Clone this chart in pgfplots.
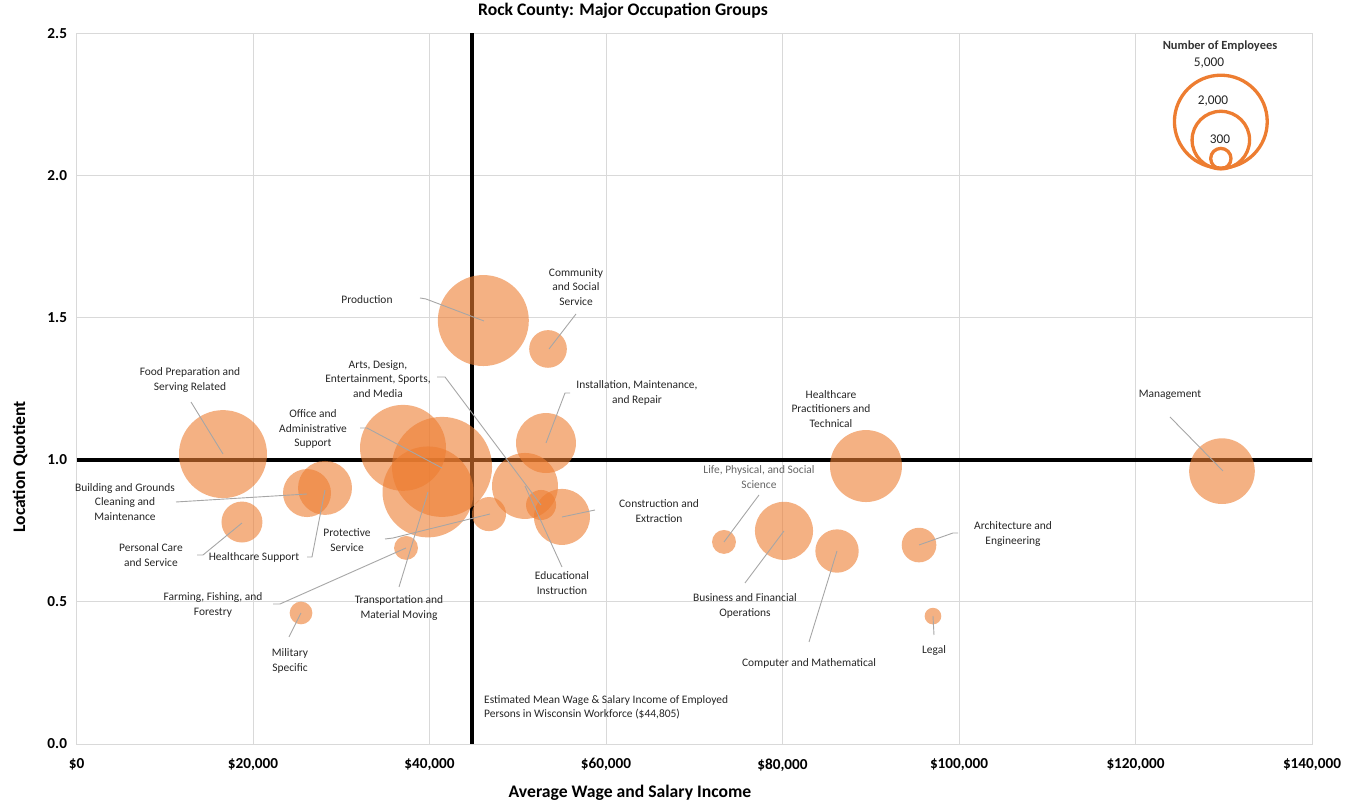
\documentclass[border=0pt]{standalone}
\usepackage{pgfplots}
\pgfplotsset{compat=1.18}
\usepackage{pgfplotstable}
\usepackage{fontspec}
\setmainfont{Carlito}
\definecolor{bub}{HTML}{ED7D31}
\definecolor{gridc}{HTML}{D9D9D9}
\definecolor{leadc}{HTML}{A6A6A6}

% x = average wage, y = location quotient, n = number of employees
\pgfplotstableread{
x      y      n
46100  1.490  4490
53430  1.390  770
16600  1.020  4200
37000  1.042  4010
41420  0.975  5430
39830  0.887  4490
53200  1.059  1950
50820  0.908  2360
52640  0.841  490
55010  0.799  1700
46740  0.809  630
37340  0.690  310
89460  0.978  2810
129800 0.960  2340
26120  0.883  1250
28160  0.901  1580
18750  0.781  910
25440  0.461  280
73370  0.711  310
80170  0.750  1830
86180  0.679  1020
95470  0.700  650
97050  0.450  150
}\bubbles

\pgfplotstableread{
x      y      n
129670 2.190  5000
129670 2.125  2000
129670 2.060  300
}\legendtab

\begin{document}
\begin{tikzpicture}
\path[use as bounding box] (0,0) rectangle (1358bp,802bp);
\begin{axis}[
  at={(76.5bp,58bp)}, anchor=south west,
  width=1235.5bp, height=710.5bp, scale only axis,
  xmin=0, xmax=140000, ymin=0, ymax=2.5,
  xtick={0,20000,40000,60000,80000,100000,120000,140000},
  xticklabels={{\$0},{\$20,000},{\$40,000},{\$60,000},{\$80,000},{\$100,000},{\$120,000},{\$140,000}},
  ytick={0,0.5,1,1.5,2,2.5},
  yticklabels={0.0,0.5,1.0,1.5,2.0,2.5},
  scaled ticks=false,
  ticklabel style={font=\fontsize{15.3}{18}\selectfont\bfseries, text=black},
  xticklabel style={yshift=-11bp},
  yticklabel style={xshift=-6bp},
  grid=major, major grid style={draw=gridc, line width=0.9bp},
  axis line style={draw=gridc, line width=0.9bp},
  tick style={draw=none},
  title={Rock County: Major Occupation Groups},
  title style={font=\fontsize{17.7}{20}\selectfont\bfseries, at={(axis description cs:0.4423,1.0232)}, anchor=center},
  xlabel={Average Wage and Salary Income},
  xlabel style={font=\fontsize{17.7}{20}\selectfont\bfseries, at={(axis description cs:0.448,-0.068)}, anchor=center},
  ylabel={Location Quotient},
  ylabel style={font=\fontsize{17.7}{20}\selectfont\bfseries, at={(axis description cs:-0.0457,0.39)}, anchor=center},
]
\addplot[black, line width=3.5bp, forget plot] coordinates {(44805,0) (44805,2.5)};
\addplot[black, line width=3.5bp, forget plot] coordinates {(0,1) (140000,1)};
\addplot[scatter, only marks, mark=*, color=bub,
  mark options={draw=bub, draw opacity=0, line width=0pt, fill=bub, fill opacity=0.6},
  visualization depends on={\thisrow{n} \as \nval},
  scatter/@pre marker code/.code={%
    \pgfmathsetmacro\rr{48*sqrt(\nval/5000)}%
    \scope[mark size=\rr bp]},
  scatter/@post marker code/.code={\endscope}]
  table[x=x, y=y] {\bubbles};
\addplot[scatter, only marks, mark=o, color=bub,
  mark options={draw=bub, fill=none, line width=3.3bp},
  visualization depends on={\thisrow{n} \as \nval},
  scatter/@pre marker code/.code={%
    \pgfmathsetmacro\rr{48*sqrt(\nval/5000)-1.6}%
    \scope[mark size=\rr bp]},
  scatter/@post marker code/.code={\endscope}]
  table[x=x, y=y] {\legendtab};
\end{axis}

\begin{scope}[x=1bp, y=-1bp, yshift=802bp,
  lab/.style={font=\fontsize{11.5}{14.5}\selectfont, align=center, text=black!85, inner sep=0pt},
  lead/.style={draw=leadc, line width=0.9bp}]
% leader lines
\draw[lead] (420,298) -- (426,299) -- (484,321);
\draw[lead] (576,314) -- (549,349);
\draw[lead] (191,402) -- (223,454);
\draw[lead] (437,377) -- (445,377) -- (541,505);
\draw[lead] (360,428) -- (367,428) -- (442,468);
\draw[lead] (570,393) -- (565,393) -- (546,443);
\draw[lead] (1170,417) -- (1223,471);
\draw[lead] (176,502) -- (307,494);
\draw[lead] (197,555) -- (203,555) -- (242,523);
\draw[lead] (307,557) -- (312,557) -- (325,490);
\draw[lead] (385,539) -- (393,538) -- (490,514);
\draw[lead] (273,604) -- (280,604) -- (406,548);
\draw[lead] (399,587) -- (428,492);
\draw[lead] (289,637) -- (301,613);
\draw[lead] (562,567) -- (525,486);
\draw[lead] (595,510) -- (562,517);
\draw[lead] (759,495) -- (724,542);
\draw[lead] (745,583) -- (784,531);
\draw[lead] (809,642) -- (837,551);
\draw[lead] (958,533) -- (953,533) -- (919,545);
\draw[lead] (934,635) -- (933,616);
% labels
\node[lab] at (367,300) {Production};
\node[lab] at (576,287) {Community\\and Social\\Service};
\node[lab] at (190,380) {Food Preparation and\\Serving Related};
\node[lab] at (378,379) {Arts, Design,\\Entertainment, Sports,\\and Media};
\node[lab] at (313,429) {Office and\\Administrative\\Support};
\node[lab] at (637,393) {Installation, Maintenance,\\and Repair};
\node[lab] at (831,409) {Healthcare\\Practitioners and\\Technical};
\node[lab] at (1170,395) {Management};
\node[lab] at (125,502) {Building and Grounds\\Cleaning and\\Maintenance};
\node[lab] at (151,555) {Personal Care\\and Service};
\node[lab] at (254,557) {Healthcare Support};
\node[lab] at (347,540) {Protective\\Service};
\node[lab] at (213,605) {Farming, Fishing, and\\Forestry};
\node[lab] at (399,608) {Transportation and\\Material Moving};
\node[lab] at (290,661) {Military\\Specific};
\node[lab] at (562,583) {Educational\\Instruction};
\node[lab] at (659,511) {Construction and\\Extraction};
\node[lab, text=black!60] at (759,477) {Life, Physical, and Social\\Science};
\node[lab] at (745,606) {Business and Financial\\Operations};
\node[lab] at (809,663) {Computer and Mathematical};
\node[lab] at (1013,534) {Architecture and\\Engineering};
\node[lab] at (934,651) {Legal};
\node[lab, align=left, anchor=west] at (484,707.5) {Estimated Mean Wage \& Salary Income of Employed\\Persons in Wisconsin Workforce (\$44,805)};
% bubble size legend
\node[font=\fontsize{12.5}{14}\selectfont\bfseries, text=black!80, inner sep=0pt] at (1220,46) {Number of Employees};
\node[font=\fontsize{13.4}{15}\selectfont, text=black!85, inner sep=0pt] at (1209,63) {5,000};
\node[font=\fontsize{13.4}{15}\selectfont, text=black!85, inner sep=0pt] at (1213,101) {2,000};
\node[font=\fontsize{13.4}{15}\selectfont, text=black!85, inner sep=0pt] at (1220,139) {300};
\end{scope}
\end{tikzpicture}
\end{document}
